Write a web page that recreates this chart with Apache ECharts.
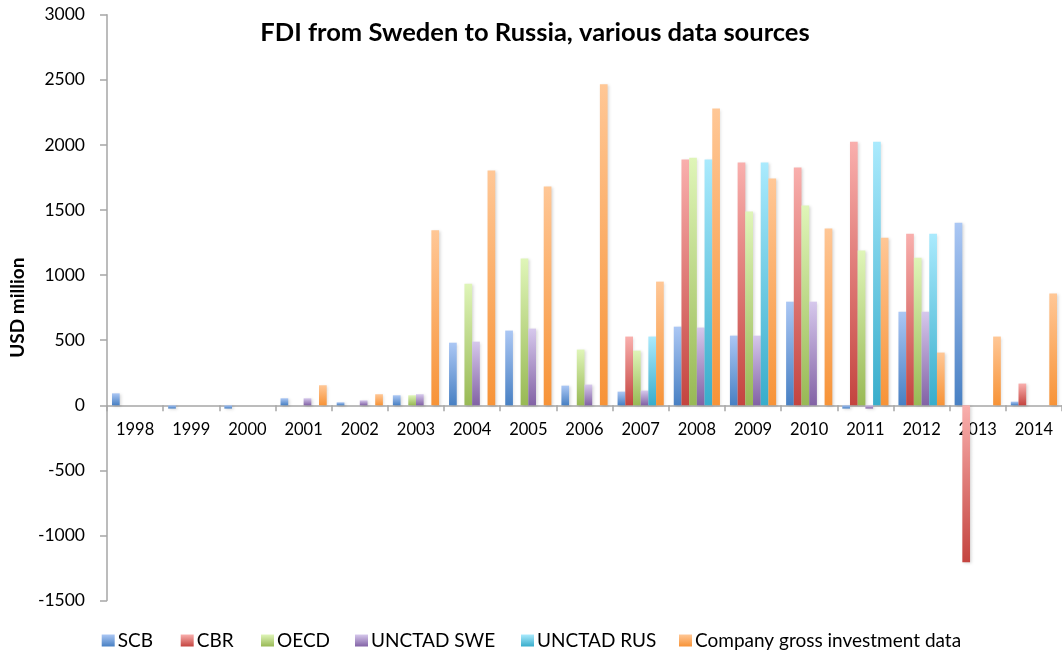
<!DOCTYPE html>
<html>
<head>
<meta charset="utf-8">
<script src="https://cdn.jsdelivr.net/npm/echarts@6/dist/echarts.min.js"></script>
<style>
html,body{margin:0;padding:0;background:#fff;}
#chart{width:1062px;height:654px;}
</style>
</head>
<body>
<div id="chart"></div>
<script>
const categories = ['1998','1999','2000','2001','2002','2003','2004','2005','2006','2007','2008','2009','2010','2011','2012','2013','2014'];
const seriesNames = ['SCB','CBR','OECD','UNCTAD SWE','UNCTAD RUS','Company gross investment data'];
const scb        = [92, -25, -25, 54, 23, 77, 481, 574, 151, 105, 604, 535, 796, -25, 719, 1402, 28];
const cbr        = [null, null, null, null, null, null, null, null, null, 528, 1887, 1864, 1826, 2025, 1318, -1206, 167];
const oecd       = [null, null, null, null, null, 77, 934, 1127, 428, 420, 1902, 1488, 1534, 1188, 1134, null, null];
const unctadSwe  = [null, null, null, 54, 38, 85, 489, 589, 159, 113, 597, 535, 796, -25, 719, null, null];
const unctadRus  = [null, null, null, null, null, null, null, null, null, 528, 1887, 1864, null, 2025, 1318, null, null];
const company    = [null, null, null, 154, 85, 1345, 1803, 1680, 2465, 950, 2279, 1741, 1357, 1287, 405, 528, 858];
const yTicks = {min: -1500, max: 3000, interval: 500};

const seriesData = [scb, cbr, oecd, unctadSwe, unctadRus, company];
const gradients = [
  ['#abc7f4', '#4880c3'],
  ['#f9afad', '#c4443f'],
  ['#dff5b8', '#98b955'],
  ['#d6c8ec', '#8262a5'],
  ['#aaeafd', '#38adcb'],
  ['#ffc796', '#f79337']
];
function grad(c){
  return new echarts.graphic.LinearGradient(0,0,0,1,[{offset:0,color:c[0]},{offset:1,color:c[1]}]);
}
const FONT = 'Lato, "Open Sans", sans-serif';
const GRID = {left: 105.5, top: 14.7, width: 962, height: 585.9};
// distance of the zero line above the bottom of the plot, from the axis scale
const zeroOffset = -(0 - yTicks.min) / (yTicks.max - yTicks.min) * GRID.height;
const legendLefts = [101.7, 180.7, 261, 355, 521, 679];

const chart = echarts.init(document.getElementById('chart'), null, {renderer:'canvas'});
chart.setOption({
  animation: false,
  backgroundColor: '#fff',
  title: {
    text: 'FDI from Sweden to Russia, various data sources',
    left: 530, textAlign: 'center', top: 15,
    textStyle: {fontFamily: FONT, fontWeight: 'bold', fontSize: 25.5, color: '#000'}
  },
  legend: seriesNames.map((n, i) => ({
    data: [{name: n, icon: 'rect', itemStyle: {shadowBlur: 0, shadowOffsetX: 0, shadowOffsetY: 0}}],
    left: legendLefts[i], top: 631,
    itemWidth: 13, itemHeight: 12, itemGap: 0,
    padding: 0,
    textStyle: {fontFamily: FONT, fontSize: 19, color: '#000', padding: [0,0,0,-2]}
  })),
  grid: GRID,
  xAxis: {
    type: 'category',
    data: categories,
    offset: zeroOffset,
    axisLine: {onZero: false, lineStyle: {color: '#a6a6a6', width: 1.5}},
    axisTick: {show: true, interval: 0, alignWithLabel: false, length: 6, lineStyle: {color: '#a6a6a6', width: 1.5}},
    axisLabel: {interval: 0, margin: 16, fontFamily: FONT, fontSize: 16.5, color: '#000'},
    splitLine: {show: false}
  },
  yAxis: {
    type: 'value',
    min: yTicks.min, max: yTicks.max, interval: yTicks.interval,
    name: 'USD million', nameLocation: 'middle', nameRotate: 90, nameGap: 75,
    nameTextStyle: {fontFamily: FONT, fontWeight: 'bold', fontSize: 19, color: '#000'},
    axisLine: {show: true, lineStyle: {color: '#a6a6a6', width: 1.5}},
    axisTick: {show: true, length: 7, lineStyle: {color: '#a6a6a6', width: 1.5}},
    axisLabel: {margin: 22, fontFamily: FONT, fontSize: 17.5, color: '#000', formatter: v => String(v)},
    splitLine: {show: false}
  },
  series: seriesNames.map((n, i) => ({
    name: n,
    type: 'bar',
    data: seriesData[i],
    barWidth: 7.7,
    barGap: '0%',
    itemStyle: {
      color: grad(gradients[i]),
      shadowColor: 'rgba(0,0,0,0.15)', shadowBlur: 3, shadowOffsetX: 1.5, shadowOffsetY: 1
    }
  }))
});
</script>
</body>
</html>
